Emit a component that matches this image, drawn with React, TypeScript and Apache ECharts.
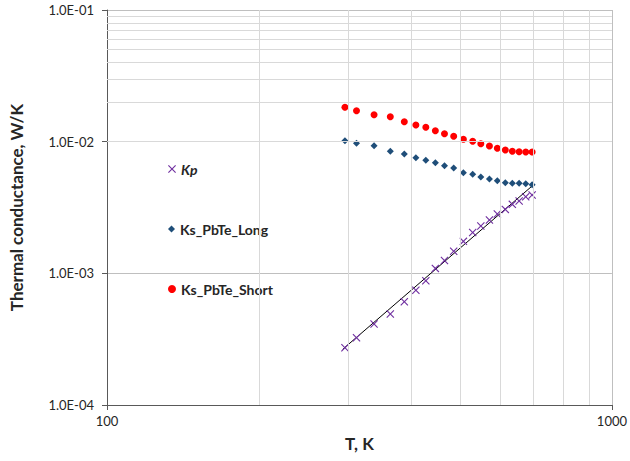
import React, { useEffect, useRef } from "react";
import * as echarts from "echarts";

const temperatures = [296, 312, 338, 364, 388, 409, 428, 447, 466, 486, 508, 530, 550, 572, 593, 615, 635, 655, 675, 695];
const kpValues = [2.72e-4, 3.24e-4, 4.12e-4, 4.91e-4, 6.09e-4, 7.43e-4, 8.79e-4, 1.09e-3, 1.25e-3, 1.47e-3, 1.75e-3, 2.04e-3, 2.29e-3, 2.54e-3, 2.82e-3, 3.06e-3, 3.34e-3, 3.54e-3, 3.82e-3, 3.94e-3];
const ksLongValues = [1.017e-2, 9.72e-3, 9.32e-3, 8.45e-3, 8.06e-3, 7.56e-3, 7.22e-3, 6.92e-3, 6.57e-3, 6.31e-3, 5.81e-3, 5.65e-3, 5.39e-3, 5.2e-3, 5.05e-3, 4.88e-3, 4.83e-3, 4.83e-3, 4.8e-3, 4.71e-3];
const ksShortValues = [1.824e-2, 1.718e-2, 1.603e-2, 1.547e-2, 1.418e-2, 1.338e-2, 1.285e-2, 1.211e-2, 1.149e-2, 1.098e-2, 1.042e-2, 1.006e-2, 9.65e-3, 9.27e-3, 8.91e-3, 8.65e-3, 8.45e-3, 8.39e-3, 8.35e-3, 8.35e-3];
const fitT = [293, 697];
const fitK = [2.65e-4, 4.65e-3];
const xMinorGrid = [200, 300, 400, 500, 600, 700, 800, 900];
const yMinorGrid = [
  2e-4, 3e-4, 4e-4, 5e-4, 6e-4, 7e-4, 8e-4, 9e-4,
  2e-3, 3e-3, 4e-3, 5e-3, 6e-3, 7e-3, 8e-3, 9e-3,
  2e-2, 3e-2, 4e-2, 5e-2, 6e-2, 7e-2, 8e-2, 9e-2,
];
const seriesNames = ["Kp", "Ks_PbTe_Long", "Ks_PbTe_Short"];

const FONT = "Lato, 'Open Sans', sans-serif";
const X_PATH = "path://M0,1L1,0L5,4L9,0L10,1L6,5L10,9L9,10L5,6L1,10L0,9L4,5Z";

function fmtExp(v: number): string {
  const e = Math.round(Math.log10(v));
  const m = v / Math.pow(10, e);
  return m.toFixed(1) + "E" + (e < 0 ? "-" : "+") + String(Math.abs(e)).padStart(2, "0");
}

export default function App() {
  const ref = useRef<HTMLDivElement>(null);
  useEffect(() => {
    if (!ref.current) return;
    const chart = echarts.init(ref.current, undefined, { renderer: "svg" });
    const legendText = (italic: boolean) => ({
      fontFamily: FONT,
      fontSize: 14,
      fontWeight: "bold",
      fontStyle: italic ? "italic" : "normal",
      color: "#262626",
    });
    chart.setOption({
      animation: false,
      grid: { left: 103, right: 16, top: 10, bottom: 56, containLabel: false },
      legend: [
        { data: [seriesNames[0]], left: 163, top: 157, itemWidth: 8, itemHeight: 8, selectedMode: false, textStyle: legendText(true) },
        { data: [seriesNames[1]], left: 163, top: 217, itemWidth: 7, itemHeight: 7, selectedMode: false, textStyle: legendText(false) },
        { data: [seriesNames[2]], left: 163, top: 277, itemWidth: 8, itemHeight: 8, selectedMode: false, textStyle: legendText(false) },
      ],
      xAxis: {
        type: "log",
        logBase: 10,
        min: 100,
        max: 1000,
        name: "T, K",
        nameLocation: "middle",
        nameGap: 30,
        nameTextStyle: { fontFamily: FONT, fontSize: 17, fontWeight: "bold", color: "#262626" },
        axisLine: { show: true, lineStyle: { color: "#595959", width: 1 } },
        axisTick: { show: true, length: 5, lineStyle: { color: "#595959" } },
        axisLabel: { fontFamily: FONT, fontSize: 13, color: "#262626", margin: 9, formatter: (v: number) => String(Math.round(v)) },
        splitLine: { show: true, lineStyle: { color: "#bfbfbf", width: 1 } },
      },
      yAxis: {
        type: "log",
        logBase: 10,
        min: 1e-4,
        max: 1e-1,
        name: "Thermal conductance, W/K",
        nameLocation: "middle",
        nameGap: 82,
        nameRotate: 90,
        nameTextStyle: { fontFamily: FONT, fontSize: 17, fontWeight: "bold", color: "#262626" },
        axisLine: { show: true, lineStyle: { color: "#595959", width: 1 } },
        axisTick: { show: true, length: 5, lineStyle: { color: "#595959" } },
        axisLabel: { fontFamily: FONT, fontSize: 13, color: "#262626", margin: 13, formatter: (v: number) => fmtExp(v) },
        splitLine: { show: true, lineStyle: { color: "#bfbfbf", width: 1 } },
      },
      series: [
        {
          name: "minorGrid",
          type: "line",
          data: [],
          silent: true,
          z: 1,
          markLine: {
            silent: true,
            symbol: ["none", "none"],
            label: { show: false },
            lineStyle: { color: "#d9d9d9", type: "solid", width: 1 },
            data: [
              ...xMinorGrid.map((v) => ({ xAxis: v })),
              ...yMinorGrid.map((v) => ({ yAxis: v })),
            ],
          },
        },
        {
          name: "fit",
          type: "line",
          data: fitT.map((t, i) => [t, fitK[i]]),
          symbol: "none",
          lineStyle: { color: "#000000", width: 1 },
          z: 3,
        },
        {
          name: seriesNames[0],
          type: "scatter",
          data: temperatures.map((t, i) => [t, kpValues[i]]),
          symbol: X_PATH,
          symbolSize: 8,
          itemStyle: { color: "#7030a0", opacity: 1 },
          z: 4,
        },
        {
          name: seriesNames[1],
          type: "scatter",
          data: temperatures.map((t, i) => [t, ksLongValues[i]]),
          symbol: "diamond",
          symbolSize: 7,
          itemStyle: { color: "#1f4e79", opacity: 1 },
          z: 4,
        },
        {
          name: seriesNames[2],
          type: "scatter",
          data: temperatures.map((t, i) => [t, ksShortValues[i]]),
          symbol: "circle",
          symbolSize: 7,
          itemStyle: { color: "#ff0000", opacity: 1 },
          z: 4,
        },
      ],
    });
    return () => chart.dispose();
  }, []);
  return <div ref={ref} style={{ width: 630, height: 461, position: "absolute", left: 0, top: 0 }} />;
}
